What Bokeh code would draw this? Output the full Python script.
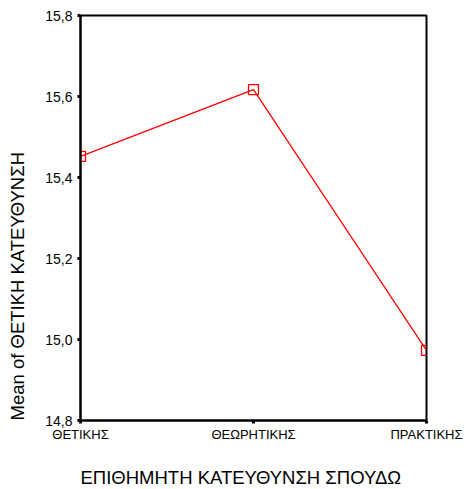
from bokeh.plotting import figure
from bokeh.models import Range1d, FixedTicker, Title
from bokeh.embed import file_html
from bokeh.resources import INLINE

categories = ["ΘΕΤΙΚΗΣ", "ΘΕΩΡΗΤΙΚΗΣ", "ΠΡΑΚΤΙΚΗΣ"]
means = [15.452, 15.617, 14.973]
y_ticks = [14.8, 15.0, 15.2, 15.4, 15.6, 15.8]
y_tick_labels = ["14,8", "15,0", "15,2", "15,4", "15,6", "15,8"]
x_title = "ΕΠΙΘΗΜΗΤΗ ΚΑΤΕΥΘΥΝΣΗ ΣΠΟΥΔΩ"
y_title = "Mean of ΘΕΤΙΚΗ ΚΑΤΕΥΘΥΝΣΗ"

xs = list(range(len(categories)))

p = figure(width=465, height=489, output_backend="svg", toolbar_location=None,
           x_range=Range1d(0, len(categories) - 1), y_range=Range1d(14.8, 15.8),
           min_border_left=80, min_border_right=39, min_border_top=15, min_border_bottom=69)
p.grid.visible = False
p.outline_line_color = "black"
p.outline_line_width = 2
p.background_fill_color = "white"
p.border_fill_color = "white"

p.line(xs, means, line_color="red", line_width=1.3)
p.scatter(xs, means, marker="square", size=10, fill_color=None, line_color="red", line_width=1.3)

p.xaxis.ticker = FixedTicker(ticks=xs)
p.xaxis.major_label_overrides = {i: c for i, c in enumerate(categories)}
p.yaxis.ticker = FixedTicker(ticks=y_ticks)
p.yaxis.major_label_overrides = {t: l for t, l in zip(y_ticks, y_tick_labels)}

for ax in (p.xaxis[0], p.yaxis[0]):
    ax.axis_line_color = "black"
    ax.axis_line_width = 2
    ax.major_tick_line_color = "black"
    ax.major_tick_line_width = 3
    ax.major_tick_in = 0
    ax.major_tick_out = 3
    ax.minor_tick_line_color = None
    ax.major_label_text_font = "Liberation Sans"
    ax.major_label_text_color = "black"
    # blank spacer label so the outer titles sit further from the frame
    ax.axis_label = "\u00a0"
    ax.axis_label_text_font_size = "10px"

p.yaxis.major_label_text_font_size = "14px"
p.yaxis.major_label_standoff = 5
p.yaxis.axis_label_standoff = 0
p.xaxis.major_label_text_font_size = "13px"
p.xaxis.major_label_standoff = 3
p.xaxis.axis_label_standoff = 5

xt = Title(text=x_title, align="left", offset=0, standoff=2,
           text_font="Liberation Sans", text_font_style="normal",
           text_font_size="18.5px", text_color="black")
p.add_layout(xt, "below")

yt = Title(text=y_title, align="left", offset=0, standoff=2,
           text_font="Liberation Sans", text_font_style="normal",
           text_font_size="18.5px", text_color="black")
p.add_layout(yt, "left")

open("out.html", "w").write(file_html(p, INLINE))
